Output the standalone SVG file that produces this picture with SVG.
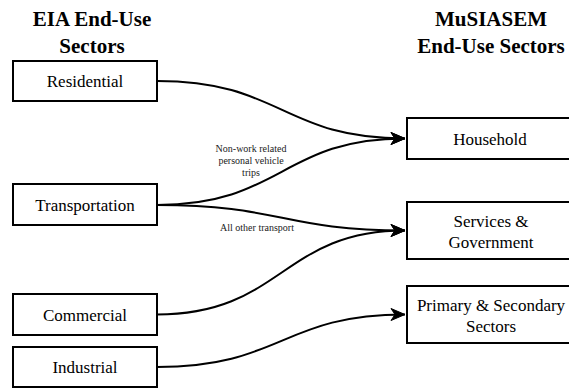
<svg xmlns="http://www.w3.org/2000/svg" width="569" height="388" viewBox="0 0 569 388" font-family="Liberation Serif, serif">
<style>
text{font-family:"Liberation Serif",serif}
.box{fill:#fff;stroke:#000;stroke-width:2}
.t{font-size:17px;fill:#000;text-anchor:middle}
.h{font-size:21px;font-weight:bold;fill:#000;text-anchor:middle}
.lbl{font-size:10px;fill:#222;text-anchor:middle}
.c{fill:none;stroke:#000;stroke-width:2}
</style>
<defs>
<marker id="arr" markerUnits="userSpaceOnUse" markerWidth="16" markerHeight="14" refX="15" refY="7" orient="auto">
<path d="M1,1 L15,7 L1,13 L5,7 Z" fill="#000" stroke="#000" stroke-width="1"/>
</marker>
</defs>
<rect width="569" height="388" fill="#fff"/>
<g id="titles">
<text class="h" x="92" y="26">EIA End-Use</text>
<text class="h" x="92" y="53">Sectors</text>
<text class="h" x="491" y="26">MuSIASEM</text>
<text class="h" x="491" y="53">End-Use Sectors</text>
</g>
<g id="connectors">
<path class="c" d="M157,81 C282,81 282,138.5 405,138.5" marker-end="url(#arr)"/>
<path class="c" d="M157,205 C282,205 282,138.5 405,138.5" marker-end="url(#arr)"/>
<path class="c" d="M157,205 C282,205 282,230.5 405,230.5" marker-end="url(#arr)"/>
<path class="c" d="M157,314.5 C282,314.5 282,230.5 405,230.5" marker-end="url(#arr)"/>
<path class="c" d="M157,367 C282,367 282,314.5 405,314.5" marker-end="url(#arr)"/>
<g id="labels">
<text class="lbl" x="251" y="152">Non-work related</text>
<text class="lbl" x="251" y="164">personal vehicle</text>
<text class="lbl" x="251" y="176">trips</text>
<text class="lbl" x="257" y="231">All other transport</text>
</g>
</g>
<g id="residential"><rect class="box" x="13" y="61" width="144" height="40"/><text class="t" x="85" y="87">Residential</text></g>
<g id="transportation"><rect class="box" x="13" y="184" width="144" height="41"/><text class="t" x="85" y="210.5">Transportation</text></g>
<g id="commercial"><rect class="box" x="13" y="294" width="144" height="41"/><text class="t" x="85" y="320.5">Commercial</text></g>
<g id="industrial"><rect class="box" x="13" y="347" width="144" height="40"/><text class="t" x="85" y="373">Industrial</text></g>
<g id="household"><rect class="box" x="407" y="118" width="164" height="41"/><text class="t" x="490" y="144.5">Household</text></g>
<g id="services"><rect class="box" x="407" y="202" width="164" height="57"/><text class="t" x="491" y="227">Services &amp;</text><text class="t" x="491" y="248">Government</text></g>
<g id="primary"><rect class="box" x="407" y="286" width="164" height="57"/><text class="t" x="491" y="311">Primary &amp; Secondary</text><text class="t" x="491" y="332">Sectors</text></g>
</svg>
